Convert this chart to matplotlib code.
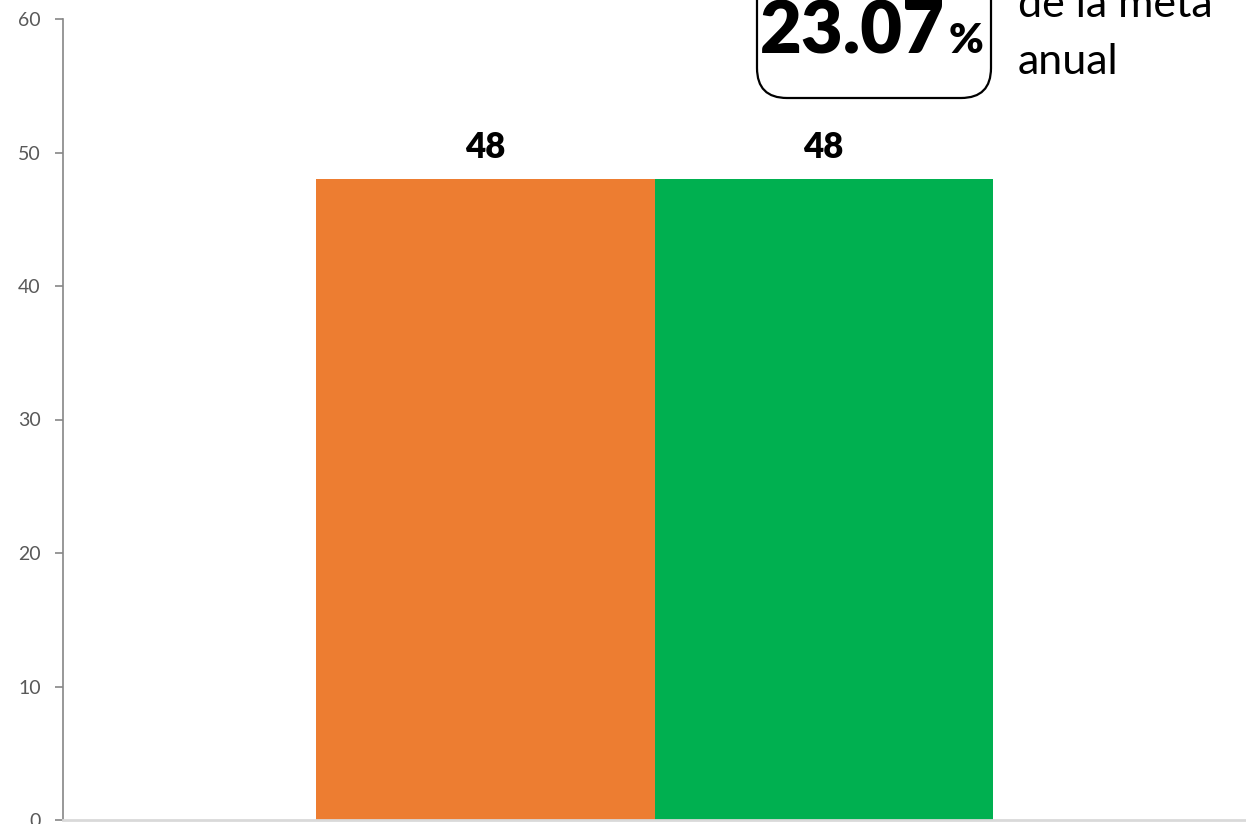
import matplotlib
matplotlib.use("Agg")
import matplotlib.pyplot as plt
from matplotlib.patches import FancyBboxPatch
from matplotlib.transforms import IdentityTransform

plt.rcParams['font.family'] = ['Lato', 'DejaVu Sans']

# data
series_names = ["Meta", "Logro"]
values = [48, 48]
colors = ["#ED7D31", "#00B050"]
offsets = [-0.143, 0.143]
yticks = [0, 10, 20, 30, 40, 50, 60]
pct_text = "23.07"
side_text = ["de la meta", "anual"]

W, H = 1246, 824
fig = plt.figure(figsize=(W / 100, H / 100), dpi=100)
ax = fig.add_axes([63 / W, 4 / H, (W - 63) / W, 801 / H])

for name, v, c, off in zip(series_names, values, colors, offsets):
    ax.bar(off, v, width=0.286, color=c, label=name)
    ax.annotate(str(v), (off, v), xytext=(0, 15), textcoords="offset points",
                ha="center", va="baseline", fontsize=25, fontweight="heavy", color="black")

ax.set_xlim(-0.5, 0.5)
ax.set_ylim(0, 60)
ax.set_yticks(yticks)
ax.set_xticks([])
ax.tick_params(axis="y", labelsize=14, labelcolor="#595959", color="#868686",
               length=6, width=1.2, pad=10)
ax.spines["top"].set_visible(False)
ax.spines["right"].set_visible(False)
ax.spines["left"].set_color("#868686")
ax.spines["left"].set_linewidth(1.2)
ax.spines["bottom"].set_color("#D9D9D9")
ax.spines["bottom"].set_linewidth(2)

# callout box (extends past the top edge like the original)
box = FancyBboxPatch((757, H - 98), 234, 200,
                     boxstyle="round,pad=0,rounding_size=30",
                     transform=IdentityTransform(), facecolor="white",
                     edgecolor="black", linewidth=1.6, clip_on=False)
fig.patches.append(box)
fig.text(760 / W, (H - 53) / H, pct_text, fontsize=52, fontweight="heavy",
         ha="left", va="baseline")
fig.text(949 / W, (H - 53) / H, "%", fontsize=30, fontweight="heavy",
         ha="left", va="baseline")
fig.text(1018 / W, (H - 17) / H, side_text[0], fontsize=31, ha="left", va="baseline")
fig.text(1018 / W, (H - 74) / H, side_text[1], fontsize=31, ha="left", va="baseline")

fig.savefig("out.png", dpi=100)
